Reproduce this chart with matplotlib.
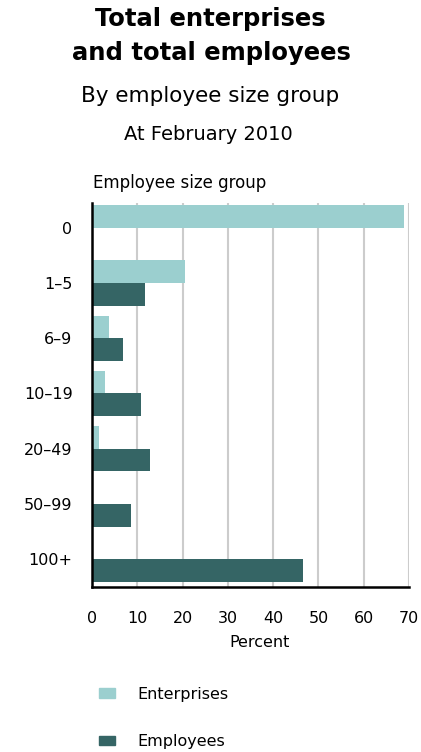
import numpy as np
import matplotlib.pyplot as plt
from matplotlib.patches import Patch

# Data (percent)
groups = ["0", "1–5", "6–9", "10–19", "20–49", "50–99", "100+"]
enterprises = [68.9, 20.6, 3.8, 2.9, 1.6, 0.2, 0.1]
employees = [0.0, 11.8, 6.9, 10.8, 12.7, 8.7, 46.7]
x_ticks = [0, 10, 20, 30, 40, 50, 60, 70]

ENT_COLOR = "#9bcfcf"
EMP_COLOR = "#356565"

fig = plt.figure(figsize=(4.21, 7.52), dpi=100)
ax = fig.add_axes([0.2185, 0.2194, 0.753, 0.511])

y = np.arange(len(groups))
h = 0.41

ax.barh(y - h / 2, enterprises, height=h, color=ENT_COLOR, zorder=3)
ax.barh(y + h / 2, employees, height=h, color=EMP_COLOR, zorder=3)

ax.set_xlim(0, 70)
ax.set_ylim(len(groups) - 0.5, -0.45)
ax.set_xticks(x_ticks)
ax.set_xticklabels([str(t) for t in x_ticks], fontsize=11.5)
ax.set_yticks(y)
ax.set_yticklabels(groups, fontsize=11.5)
ax.tick_params(axis="x", length=0, pad=17)
ax.tick_params(axis="y", length=0, pad=14)

ax.grid(axis="x", color="#cccccc", linewidth=1.5, zorder=0)
ax.set_axisbelow(True)
for side in ["top", "right"]:
    ax.spines[side].set_visible(False)
for side in ["left", "bottom"]:
    ax.spines[side].set_linewidth(1.8)
    ax.spines[side].set_zorder(5)

# Titles
fig.text(0.5, 0.975, "Total enterprises", ha="center", va="center",
         fontsize=17.5, fontweight="bold")
fig.text(0.503, 0.929, "and total employees", ha="center", va="center",
         fontsize=17.5, fontweight="bold")
fig.text(0.5, 0.872, "By employee size group", ha="center", va="center",
         fontsize=15.5)
fig.text(0.495, 0.821, "At February 2010", ha="center", va="center",
         fontsize=14)
fig.text(0.222, 0.757, "Employee size group", ha="left", va="center",
         fontsize=12)
fig.text(0.617, 0.145, "Percent", ha="center", va="center", fontsize=11.5)

handles = [Patch(color=ENT_COLOR, label="Enterprises"),
           Patch(color=EMP_COLOR, label="Employees")]
fig.legend(handles=handles, loc="upper left", bbox_to_anchor=(0.2, 0.106),
           frameon=False, fontsize=11.5, handlelength=1.0, handleheight=0.5,
           handletextpad=1.4, labelspacing=2.05)

fig.savefig("out.png", dpi=100)
